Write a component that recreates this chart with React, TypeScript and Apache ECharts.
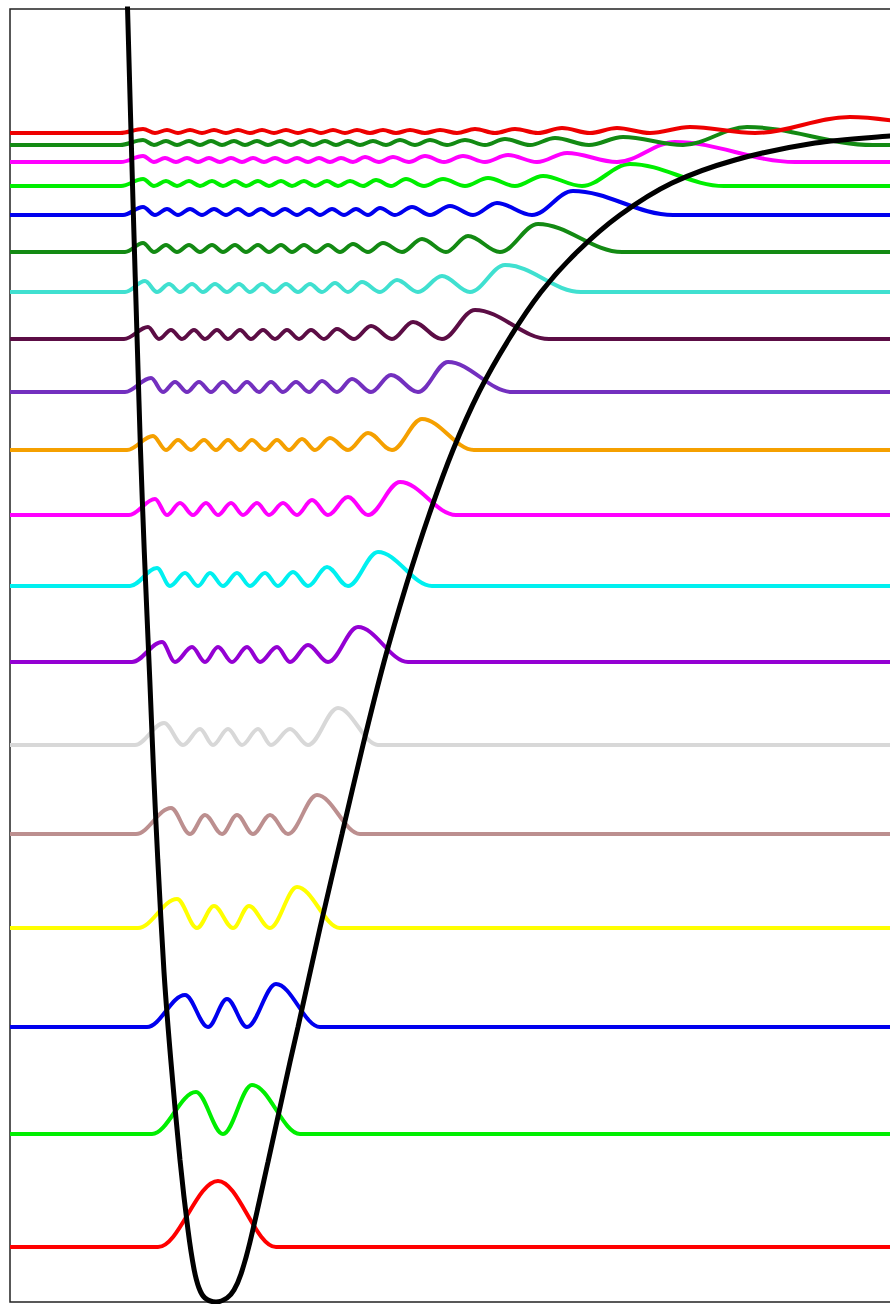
import React, { useEffect, useRef } from "react";
import * as echarts from "echarts";

// Vibrational levels (energy of each baseline, arbitrary units)
const LEVEL_E = [55, 168, 275, 374, 468, 557, 640, 716, 787, 852, 910, 963, 1010, 1050, 1087, 1116, 1140, 1157, 1169];

const LEVEL_COLORS = [
  "#ff0000", "#00ee00", "#0000ee", "#ffff00", "#bc8f8f", "#d8d8d8", "#9400d3", "#00f0f0", "#ff00ff", "#f5a000",
  "#7330bf", "#5c0d45", "#40e0d0", "#138a13", "#0000ee", "#00ee00", "#ff00ff", "#138a13", "#ee0000",
];

// where each density leaves / returns to its baseline
const TAIL_START = [158, 152, 147, 138, 136, 135, 132, 130, 129, 127, 125, 124, 125, 125, 123, 121, 121, 120, 120];
const TAIL_END = [276, 300, 320, 340, 360, 378, 408, 432, 456, 474, 512, 549, 581, 622, 673, 724, 795, 873, 960];

// positions of the maxima of |psi|^2
const PEAKS_X: number[][] = [
  [218],
  [196, 252],
  [185, 227, 276],
  [177, 214, 249, 297],
  [171, 205, 237, 270, 317],
  [164, 200, 228, 258, 290, 338],
  [162, 192, 218, 247, 277, 308, 358],
  [157, 185, 210, 237, 265, 293, 327, 378],
  [155, 180, 206, 231, 257, 283, 312, 348, 400],
  [153, 178, 204, 228, 252, 277, 302, 330, 368, 422],
  [151, 175, 199, 223, 247, 271, 296, 322, 352, 391, 448],
  [148, 171, 194, 217, 240, 263, 287, 311, 337, 371, 413, 475],
  [145, 169, 192, 215, 239, 262, 286, 310, 335, 362, 397, 442, 505],
  [143, 166, 189, 212, 235, 258, 281, 304, 328, 353, 383, 422, 468, 538],
  [143, 167, 190, 214, 238, 261, 285, 309, 332, 356, 380, 412, 450, 497, 573],
  [143, 166, 189, 212, 235, 258, 281, 304, 327, 350, 376, 406, 443, 488, 543, 630],
  [143, 165, 187, 209, 231, 253, 275, 297, 319, 341, 365, 393, 425, 463, 508, 567, 675],
  [143, 166, 189, 211, 234, 257, 280, 302, 325, 348, 373, 400, 430, 465, 505, 555, 623, 747],
  [143, 167, 190, 214, 238, 262, 286, 310, 333, 357, 383, 410, 440, 475, 515, 562, 617, 690, 850],
];

// heights of those maxima above the baseline
const PEAKS_H: number[][] = [
  [66],
  [42, 49],
  [32, 28, 43],
  [29, 22, 22, 41],
  [26, 19, 19, 19, 39],
  [22, 16, 16, 16, 16, 37],
  [20, 15, 15, 15, 15, 17, 35],
  [18, 13, 13, 13, 13, 14, 19, 34],
  [16, 12, 12, 12, 12, 12, 15, 18, 33],
  [14, 10, 10, 10, 10, 10, 11, 12, 17, 31],
  [14, 10, 10, 10, 10, 10, 10, 11, 13, 17, 30],
  [12, 9, 9, 9, 9, 9, 9, 9, 10, 13, 17, 29],
  [11, 8, 8, 8, 8, 8, 8, 8, 9, 10, 12, 16, 27],
  [9, 7, 7, 7, 7, 7, 7, 7, 7, 8, 9, 13, 16, 28],
  [8, 6, 6, 6, 6, 6, 6, 6, 6, 6, 7, 8, 9, 12, 24],
  [7, 5, 5, 5, 5, 5, 5, 5, 5, 5, 6, 7, 7, 8, 10, 22],
  [6, 4, 4, 4, 4, 4, 4, 4, 4, 4, 5, 5, 6, 6, 7, 9, 20],
  [5, 4, 4, 4, 4, 4, 4, 4, 4, 4, 4, 5, 5, 5, 6, 7, 8, 18],
  [4, 3, 3, 3, 3, 3, 3, 3, 3, 3, 3, 3, 3, 4, 4, 5, 5, 6, 16],
];

// nodes (zeros) between the maxima
const NODES_X: number[][] = [
  [],
  [223],
  [208, 247],
  [197, 233, 270],
  [190, 222, 253, 288],
  [183, 213, 242, 271, 308],
  [175, 205, 232, 260, 290, 328],
  [170, 198, 223, 250, 278, 308, 348],
  [167, 193, 218, 243, 269, 297, 328, 368],
  [166, 191, 216, 240, 265, 289, 315, 348, 392],
  [163, 187, 211, 235, 259, 283, 309, 337, 371, 418],
  [159, 182, 205, 228, 251, 275, 299, 324, 354, 392, 442],
  [157, 180, 203, 227, 250, 274, 298, 322, 348, 380, 418, 470],
  [154, 177, 200, 223, 246, 269, 292, 316, 340, 368, 402, 446, 500],
  [155, 178, 202, 226, 249, 273, 297, 320, 344, 368, 395, 430, 473, 532],
  [154, 177, 200, 223, 246, 269, 292, 315, 338, 363, 391, 424, 465, 515, 582],
  [154, 176, 198, 220, 242, 264, 286, 308, 330, 353, 379, 409, 444, 485, 537, 617],
  [154, 177, 200, 222, 245, 268, 291, 313, 336, 360, 386, 415, 447, 485, 530, 589, 683],
  [155, 178, 202, 226, 250, 274, 298, 321, 345, 370, 396, 425, 457, 495, 538, 590, 650, 755],
];

// Morse potential curve
const POT_X = [
  127.3, 133, 137.5, 140.5, 144.3, 149.8, 153.6, 157.8, 164, 170.8, 180, 188, 194, 199, 205, 216,
  227, 234, 241, 250, 268, 290, 298, 320, 342, 363, 384, 406, 429, 453, 479, 509, 541, 577, 620, 672, 735, 815, 890, 910,
];
const POT_E = [
  1302, 1100, 950, 852, 750, 622, 530, 442, 330, 242, 142, 72, 33, 14, 4, 0,
  4, 12, 28, 60, 140, 240, 275, 374, 468, 557, 640, 716, 787, 852, 910, 963, 1010, 1050, 1087, 1119, 1142, 1159, 1166, 1167,
];

const X_MIN = 10;
const X_MAX = 900;
const E_MIN = 0;
const E_MAX = 1293;

function levelPoints(n: number): number[][] {
  const E = LEVEL_E[n];
  const pts: number[][] = [[X_MIN, E], [TAIL_START[n], E]];
  const px = PEAKS_X[n];
  const ph = PEAKS_H[n];
  const nodes = NODES_X[n];
  for (let i = 0; i < px.length; i++) {
    pts.push([px[i], E + ph[i]]);
    if (i < nodes.length) pts.push([nodes[i], E]);
  }
  pts.push([TAIL_END[n], E]);
  if (TAIL_END[n] < X_MAX) pts.push([X_MAX, E]);
  return pts;
}

export default function App() {
  const ref = useRef<HTMLDivElement>(null);
  useEffect(() => {
    if (!ref.current) return;
    const chart = echarts.init(ref.current, null, { renderer: "svg" });
    const series: any[] = LEVEL_E.map((_, n) => ({
      type: "line",
      data: levelPoints(n),
      showSymbol: false,
      symbol: "none",
      smooth: 0.35,
      smoothMonotone: "x",
      clip: true,
      silent: true,
      lineStyle: { color: LEVEL_COLORS[n], width: 4 },
      z: 2,
    }));
    series.push({
      type: "line",
      data: POT_X.map((x, i) => [x, POT_E[i]]),
      showSymbol: false,
      symbol: "none",
      smooth: 0.3,
      clip: true,
      silent: true,
      lineStyle: { color: "#000000", width: 5 },
      z: 3,
    });
    chart.setOption({
      animation: false,
      backgroundColor: "#ffffff",
      grid: {
        show: true,
        left: 10,
        top: 9,
        width: X_MAX - X_MIN,
        height: E_MAX - E_MIN,
        outerBoundsMode: "none",
        containLabel: false,
        borderColor: "#222222",
        borderWidth: 1.5,
        backgroundColor: "transparent",
      },
      xAxis: {
        type: "value",
        min: X_MIN,
        max: X_MAX,
        show: false,
        splitLine: { show: false },
      },
      yAxis: {
        type: "value",
        min: E_MIN,
        max: E_MAX,
        show: false,
        splitLine: { show: false },
      },
      series,
    });
    return () => chart.dispose();
  }, []);
  return (
    <div
      ref={ref}
      style={{ position: "absolute", left: 0, top: 0, width: 890, height: 1304 }}
    />
  );
}
